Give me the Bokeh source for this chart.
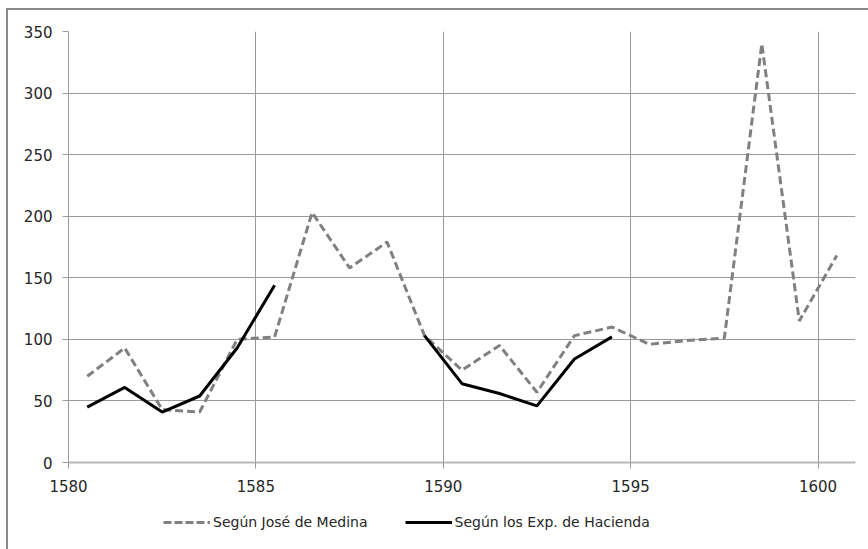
import math
from bokeh.plotting import figure
from bokeh.layouts import column
from bokeh.models import Legend, LegendItem, FixedTicker, Range1d, ColumnDataSource
from bokeh.embed import file_html
from bokeh.resources import INLINE

nan = float("nan")

# Data (mid-year positions, as in the original chart)
years = [1580.5 + i for i in range(21)]
medina = [70, 93, 43, 41, 100, 102, 203, 158, 179, 103,
          75, 95, 57, 103, 110, 96, 99, 101, 340, 115, 168]
hacienda = [45, 61, 41, 54, 93, 144, nan, nan, nan, 103,
            64, 56, 46, 84, 102, nan, nan, nan, nan, nan, nan]
x_ticks = [1580, 1585, 1590, 1595, 1600]
y_ticks = [0, 50, 100, 150, 200, 250, 300, 350]
label_medina = "Según José de Medina"
label_hacienda = "Según los Exp. de Hacienda"

FONT = "DejaVu Sans"
TXT = "#262626"
GRID = "#9a9a9a"
C_MEDINA = "#808080"
C_HACIENDA = "black"

src = ColumnDataSource(dict(x=years, medina=medina, hacienda=hacienda))

p = figure(width=860, height=490, output_backend="svg", toolbar_location=None,
           x_range=Range1d(1580, 1601), y_range=Range1d(0, 350),
           min_border_left=60, min_border_top=21, min_border_right=13,
           min_border_bottom=38)

p.outline_line_color = None
p.background_fill_color = "white"
p.border_fill_color = "white"

# grids
p.xgrid.ticker = FixedTicker(ticks=x_ticks)
p.ygrid.ticker = FixedTicker(ticks=y_ticks)
p.xgrid.grid_line_color = GRID
p.ygrid.grid_line_color = GRID
p.xgrid.grid_line_width = 1
p.ygrid.grid_line_width = 1

# axes
p.xaxis.ticker = FixedTicker(ticks=x_ticks)
p.yaxis.ticker = FixedTicker(ticks=y_ticks)
for ax in (p.xaxis[0], p.yaxis[0]):
    ax.major_tick_in = 0
    ax.major_tick_out = 6
    ax.minor_tick_line_color = None
    ax.major_tick_line_color = GRID
    ax.major_label_text_font = FONT
    ax.major_label_text_font_size = "15px"
    ax.major_label_text_color = TXT
p.xaxis.axis_line_color = "#b8b8b8"
p.xaxis.axis_line_width = 2
p.yaxis.axis_line_color = GRID
p.xaxis.major_label_standoff = 11
p.yaxis.major_label_standoff = 10

p.line("x", "medina", source=src, line_color=C_MEDINA, line_width=3, line_dash="8 4")
p.line("x", "hacienda", source=src, line_color=C_HACIENDA, line_width=3)

# legend strip below the chart
lf = figure(width=860, height=49, output_backend="svg", toolbar_location=None,
            x_range=Range1d(0, 1), y_range=Range1d(0, 1),
            x_axis_type=None, y_axis_type=None,
            min_border_left=0, min_border_right=0, min_border_top=0, min_border_bottom=0)
lf.outline_line_color = None
lf.background_fill_color = "white"
lf.border_fill_color = "white"
d1 = lf.line(x=[nan], y=[nan], line_color=C_MEDINA, line_width=3, line_dash="8 3")
d2 = lf.line(x=[nan], y=[nan], line_color=C_HACIENDA, line_width=3)

legend = Legend(items=[LegendItem(label=label_medina, renderers=[d1]),
                       LegendItem(label=label_hacienda, renderers=[d2])],
                orientation="horizontal", location=(95, 19),
                glyph_width=47, glyph_height=14, label_standoff=3, spacing=37,
                label_text_font=FONT, label_text_font_size="14px",
                label_text_color=TXT, border_line_color=None,
                background_fill_alpha=0, padding=6, margin=0)
lf.add_layout(legend, "center")

layout = column(p, lf, spacing=0, margin=(8, 0, 0, 6),
                styles={"border-left": "2px solid #888888",
                        "border-top": "2px solid #888888"})

open("out.html", "w").write(file_html(layout, INLINE))
